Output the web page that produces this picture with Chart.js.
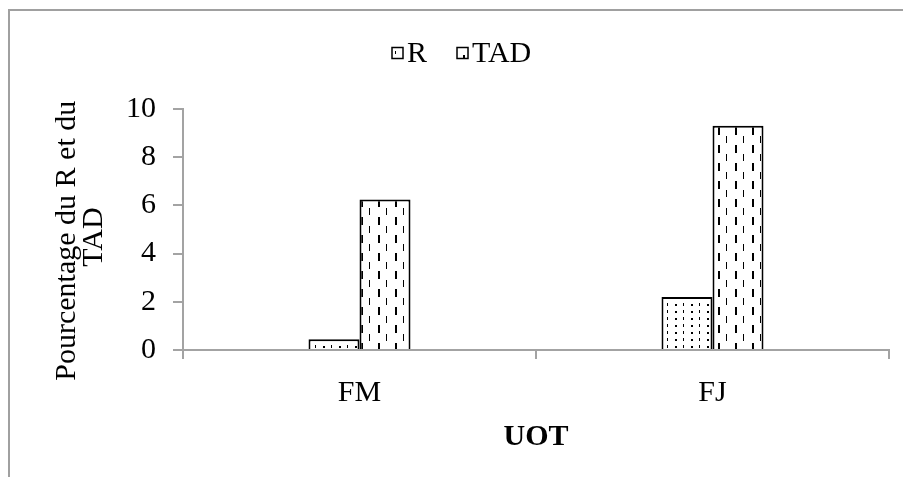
<!DOCTYPE html>
<html>
<head>
<meta charset="utf-8">
<script src="https://cdn.jsdelivr.net/npm/chart.js@4.4.1/dist/chart.umd.min.js"></script>
<style>
  html, body { margin: 0; padding: 0; background: #fff; }
  #wrap { width: 903px; height: 477px; }
</style>
</head>
<body>
<div id="wrap"><canvas id="cvs"></canvas></div>
<script>
// data
var categories = ["FM", "FJ"];
var seriesNames = ["R", "TAD"];
var rValues = [0.45, 2.2];
var tadValues = [6.25, 9.3];
var yTickStep = 2;
var yMax = 10;

var serif = "'Liberation Serif', 'Times New Roman', serif";
var axisGray = "#a3a3a3";

// fill patterns (dots for R, vertical dashes for TAD)
function dotPattern() {
    var c = document.createElement('canvas');
    c.width = 16; c.height = 7;
    var g = c.getContext('2d');
    g.fillStyle = "#fff";
    g.fillRect(0, 0, 16, 7);
    g.fillStyle = "#000";
    g.fillRect(3, 3, 2, 2);
    g.fillRect(11, 2, 1, 3);
    return g.createPattern(c, 'repeat');
}

function dashPattern() {
    var c = document.createElement('canvas');
    c.width = 17; c.height = 18;
    var g = c.getContext('2d');
    g.fillStyle = "#fff";
    g.fillRect(0, 0, 17, 18);
    g.fillStyle = "#000";
    g.fillRect(4, 1, 2, 8);
    g.fillRect(12, 10, 1, 7);
    return g.createPattern(c, 'repeat');
}

var fills = [dotPattern(), dashPattern()];

// grey frame, only top and left edges show in the crop
var framePlugin = {
    id: 'frame',
    beforeDraw: function(chart) {
        var ctx = chart.ctx;
        ctx.save();
        ctx.fillStyle = "#fff";
        ctx.fillRect(0, 0, chart.width, chart.height);
        ctx.strokeStyle = "#a0a0a0";
        ctx.lineWidth = 2;
        ctx.beginPath();
        ctx.moveTo(9, chart.height + 5);
        ctx.lineTo(9, 10);
        ctx.lineTo(chart.width + 5, 10);
        ctx.stroke();
        ctx.restore();
    }
};

// legend: small patterned boxes right next to the text
var legendPlugin = {
    id: 'miniLegend',
    afterDraw: function(chart) {
        var ctx = chart.ctx;
        ctx.save();
        ctx.font = "30px " + serif;
        ctx.textBaseline = "middle";
        var box = 11, gap = 4, between = 30;
        var x = 392;
        var y = 53;
        seriesNames.forEach(function(n, i) {
            ctx.fillStyle = fills[i];
            ctx.fillRect(x, y - box / 2, box, box);
            ctx.strokeStyle = "#000";
            ctx.lineWidth = 1.5;
            ctx.strokeRect(x, y - box / 2, box, box);
            ctx.fillStyle = "#000";
            ctx.fillText(n, x + box + gap, y + 1);
            x += box + gap + ctx.measureText(n).width + between;
        });
        ctx.restore();
    }
};

new Chart(document.getElementById('cvs'), {
    type: 'bar',
    data: {
        labels: categories,
        datasets: [
            {
                label: seriesNames[0],
                data: rValues,
                backgroundColor: fills[0],
                borderColor: "#000",
                borderWidth: 2
            },
            {
                label: seriesNames[1],
                data: tadValues,
                backgroundColor: fills[1],
                borderColor: "#000",
                borderWidth: 2
            }
        ]
    },
    options: {
        responsive: true,
        maintainAspectRatio: false,
        animation: false,
        layout: { padding: { top: 109, right: 14, left: 0, bottom: 0 } },
        datasets: { bar: { categoryPercentage: 0.289, barPercentage: 1 } },
        plugins: {
            legend: { display: false },
            tooltip: { enabled: false }
        },
        scales: {
            x: {
                afterFit: function(s) { s.height = 127; },
                border: { display: true, color: axisGray, width: 2 },
                grid: { display: true, drawOnChartArea: false, offset: true, color: axisGray, lineWidth: 2, tickLength: 9 },
                ticks: { color: "#000", font: { family: serif, size: 30 }, padding: 16 },
                title: {
                    display: true,
                    text: "UOT",
                    color: "#000",
                    font: { family: serif, size: 30, weight: 'bold' },
                    padding: { top: 0, bottom: 22 }
                }
            },
            y: {
                min: 0,
                max: yMax,
                afterFit: function(s) { s.width = 183; },
                border: { display: true, color: axisGray, width: 2 },
                grid: { display: true, drawOnChartArea: false, color: axisGray, lineWidth: 2, tickLength: 10 },
                ticks: { stepSize: yTickStep, color: "#000", font: { family: serif, size: 30 }, padding: 17 },
                title: {
                    display: true,
                    // trailing spaces nudge the rotated text down a little, as in the source
                    text: ["Pourcentage du R et du   ", "TAD  "],
                    color: "#000",
                    font: { family: serif, size: 30, lineHeight: 0.9 },
                    padding: { top: 54, bottom: 0 }
                }
            }
        }
    },
    plugins: [framePlugin, legendPlugin]
});
</script>
</body>
</html>
